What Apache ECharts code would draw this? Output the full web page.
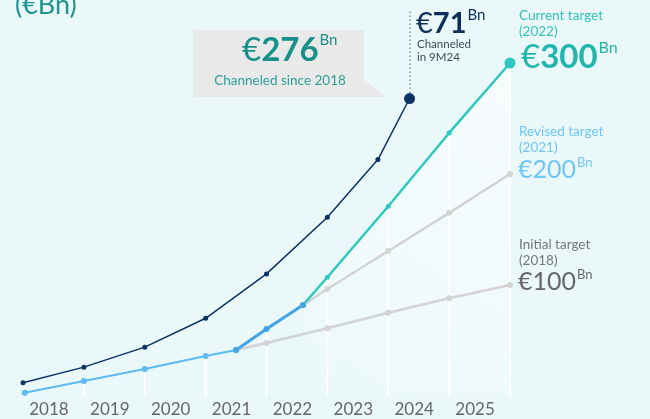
<!DOCTYPE html>
<html>
<head>
<meta charset="utf-8">
<script src="https://cdn.jsdelivr.net/npm/echarts@6/dist/echarts.min.js"></script>
<style>
  html, body { margin: 0; padding: 0; background: #eaf8fa; }
  #chart { width: 650px; height: 419px; }
</style>
</head>
<body>
<div id="chart"></div>
<script>
const yearLabels = ['2018', '2019', '2020', '2021', '2022', '2023', '2024', '2025'];

// cumulative amounts, [year position, €Bn]
const channeled = [[2018, 12], [2019, 26], [2020, 44], [2021, 70], [2022, 110], [2023, 161], [2023.83, 213], [2024.35, 268]];
const initialPath = [[2018.03, 3], [2019, 13.5], [2020, 24.3], [2021, 36], [2021.5, 41.4]];
const revisedPath = [[2021.5, 41.4], [2022, 60.4], [2022.6, 82]];
const initialTarget = [[2021.5, 41.4], [2022, 47.7], [2023, 61], [2024, 75], [2025, 88], [2026, 100]];
const revisedTarget = [[2022.6, 82], [2023, 96.4], [2024, 130.6], [2025, 165], [2026, 200]];
const currentTarget = [[2022.6, 82], [2023, 107], [2024, 171], [2025, 237], [2026, 300]];
const yearEnds = [[2019, 13.5], [2020, 24.3], [2021, 36], [2022, 60.4], [2023, 107], [2024, 171], [2025, 237], [2026, 300]];

const FONT = 'Lato, "Open Sans", sans-serif';

const chart = echarts.init(document.getElementById('chart'));

const lastBig = (n) => (v, p) => (p.dataIndex === n - 1 ? 11 : 5);

// big figure with superscript "Bn"
function figure(x, y, head, bold, size, supSize, color, boldHead) {
  const rich = {
    a: { fontSize: size, fontFamily: FONT, fill: color, lineHeight: size + 2 },
    b: { fontSize: size, fontWeight: 'bold', fontFamily: FONT, fill: color, lineHeight: size + 2 },
    c: { fontSize: supSize, fontFamily: FONT, fill: color, verticalAlign: 'top', lineHeight: size + 2, padding: [0, 0, 0, 1] }
  };
  const text = '{a|' + head + '}' + (bold ? '{b|' + bold + '}' : '') + '{c|Bn}';
  return { type: 'text', x: x, y: y, style: { text: text, verticalAlign: 'top', rich: rich } };
}

const option = {
  backgroundColor: '#eaf8fa',
  animation: false,
  grid: { left: 23, right: 140, top: 7.5, bottom: 23 },
  xAxis: [
    { type: 'value', min: 2018, max: 2026, show: false },
    {
      type: 'category', data: yearLabels, boundaryGap: true, position: 'bottom',
      axisLine: { show: false }, axisTick: { show: false }, splitLine: { show: false },
      axisLabel: { color: '#666', fontSize: 17, fontFamily: FONT, margin: 5, padding: [0, 9, 0, 0] }
    }
  ],
  yAxis: { type: 'value', min: 0, max: 350, show: false },
  series: [
    {
      type: 'line', data: currentTarget, symbol: 'none', lineStyle: { opacity: 0 }, z: 1,
      areaStyle: {
        color: new echarts.graphic.LinearGradient(0, 1, 1, 0, [
          { offset: 0, color: 'rgba(255,255,255,0.05)' },
          { offset: 1, color: 'rgba(255,255,255,0.95)' }
        ])
      }
    },
    {
      type: 'bar', data: yearEnds, barWidth: 2, itemStyle: { color: '#ffffff' }, z: 1
    },
    {
      type: 'line', data: initialTarget, symbol: 'circle', symbolSize: 6,
      itemStyle: { color: '#d3d3d3' }, lineStyle: { color: '#d3d3d3', width: 2.5 }
    },
    {
      type: 'line', data: revisedTarget, symbol: 'circle', symbolSize: 6,
      itemStyle: { color: '#d3d3d3' }, lineStyle: { color: '#d3d3d3', width: 2.5 }
    },
    {
      type: 'line', data: initialPath, symbol: 'circle', symbolSize: 6,
      itemStyle: { color: '#5fb9f3' }, lineStyle: { color: '#5fb9f3', width: 2 }
    },
    {
      type: 'line', data: currentTarget, symbol: 'circle', symbolSize: lastBig(currentTarget.length),
      itemStyle: { color: '#2ec8c1' }, lineStyle: { color: '#2ec8c1', width: 2.5 }
    },
    {
      type: 'line', data: revisedPath, symbol: 'circle', symbolSize: 6,
      itemStyle: { color: '#42a3e6' }, lineStyle: { color: '#42a3e6', width: 3 }
    },
    {
      type: 'line', data: channeled, symbol: 'circle', symbolSize: lastBig(channeled.length),
      itemStyle: { color: '#0b3265' }, lineStyle: { color: '#0b3265', width: 1.5 },
      markLine: {
        silent: true, symbol: 'none', label: { show: false },
        lineStyle: { color: '#8496ab', type: [1.5, 2.5], width: 1.5 },
        data: [[{ coord: [2024.35, 273] }, { coord: [2024.35, 347] }]]
      }
    }
  ],
  graphic: [
    {
      type: 'text', x: 15, y: -8,
      style: { text: '(€Bn)', font: '400 27px ' + FONT, fill: '#1d948f' }
    },
    {
      type: 'polygon',
      shape: { points: [[193, 30], [364, 30], [364, 80], [387, 97], [193, 97]] },
      style: { fill: '#e9e9e9' }
    },
    figure(242, 33, '€', '276', 33, 15, '#17908a'),
    {
      type: 'text', x: 280, y: 74,
      style: { text: 'Channeled since 2018', align: 'center', font: '400 13.5px ' + FONT, fill: '#2a9e97' }
    },
    figure(416, 8, '€', '71', 29, 15, '#0d2d5a'),
    {
      type: 'text', x: 417, y: 38,
      style: { text: 'Channeled\nin 9M24', font: '400 11.5px ' + FONT, lineHeight: 13, fill: '#3c4b5c' }
    },
    {
      type: 'text', x: 519, y: 7,
      style: { text: 'Current target\n(2022)', font: '400 13.5px ' + FONT, lineHeight: 16.5, fill: '#35c0b9' }
    },
    figure(521, 40, '€', '300', 33, 16, '#22b5ae'),
    {
      type: 'text', x: 519, y: 124,
      style: { text: 'Revised target\n(2021)', font: '400 13.5px ' + FONT, lineHeight: 16, fill: '#6fc6f6' }
    },
    figure(518, 156, '€200', null, 25, 13, '#6fc6f6'),
    {
      type: 'text', x: 519, y: 237,
      style: { text: 'Initial target\n(2018)', font: '400 13.5px ' + FONT, lineHeight: 16, fill: '#777777' }
    },
    figure(518, 268, '€100', null, 25, 13, '#666666')
  ]
};

chart.setOption(option);
window.addEventListener('resize', () => chart.resize());
</script>
</body>
</html>
